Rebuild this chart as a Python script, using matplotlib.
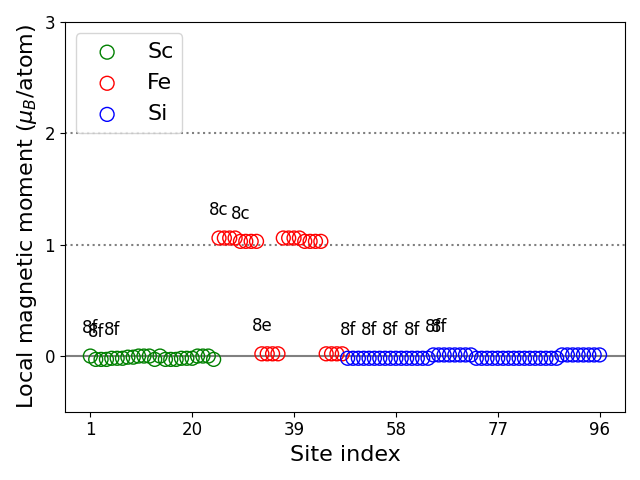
import matplotlib
matplotlib.use('Agg')
import matplotlib.pyplot as plt
import numpy as np

# site indices per species
sc_sites = list(range(1, 25))
fe_sites = list(range(25, 49))
si_sites = list(range(49, 97))

# local moments (mu_B/atom)
sc_mom = [0.00, -0.03, -0.03, -0.03, -0.02, -0.02, -0.02, -0.01,
          -0.01, 0.00, 0.00, 0.00, -0.03, 0.00, -0.03, -0.03,
          -0.03, -0.02, -0.02, -0.02, 0.00, 0.00, 0.00, -0.03]
fe_mom = [1.06, 1.06, 1.06, 1.06, 1.03, 1.03, 1.03, 1.03,
          0.02, 0.02, 0.02, 0.02,
          1.06, 1.06, 1.06, 1.06, 1.03, 1.03, 1.03, 1.03,
          0.02, 0.02, 0.02, 0.02]
si_mom = ([-0.02] * 16) + ([0.01] * 8) + ([-0.02] * 16) + ([0.01] * 8)

# Wyckoff labels: (site, text)
wyckoff = [(1, '8f'), (2, '8f'), (5, '8f'),
           (25, '8c'), (29, '8c'), (33, '8e'),
           (49, '8f'), (53, '8f'), (57, '8f'), (61, '8f'), (65, '8f'), (66, '8f')]

fig, ax = plt.subplots(figsize=(6.4, 4.8), dpi=100)

ax.axhline(0, color='gray', lw=1.5, zorder=0)
ax.axhline(1, color='gray', lw=1.5, ls=':', zorder=0)
ax.axhline(2, color='gray', lw=1.5, ls=':', zorder=0)

ax.scatter(sc_sites, sc_mom, s=100, facecolors='none', edgecolors='green', label='Sc')
ax.scatter(fe_sites, fe_mom, s=100, facecolors='none', edgecolors='red', label='Fe')
ax.scatter(si_sites, si_mom, s=100, facecolors='none', edgecolors='blue', label='Si')

all_sites = sc_sites + fe_sites + si_sites
all_mom = sc_mom + fe_mom + si_mom
for site, txt in wyckoff:
    m = all_mom[all_sites.index(site)]
    ax.text(site, m + 0.25, txt, ha='center', va='center', fontsize=12)

ax.set_ylim(-0.5, 3)
ax.set_xticks([1, 20, 39, 58, 77, 96])
ax.set_yticks([0, 1, 2, 3])
ax.tick_params(labelsize=12)
ax.set_xlabel('Site index', fontsize=16)
ax.set_ylabel(r'Local magnetic moment ($\mu_B$/atom)', fontsize=16)
ax.legend(loc='upper left', fontsize=16)

fig.tight_layout()
fig.savefig('out.png')
